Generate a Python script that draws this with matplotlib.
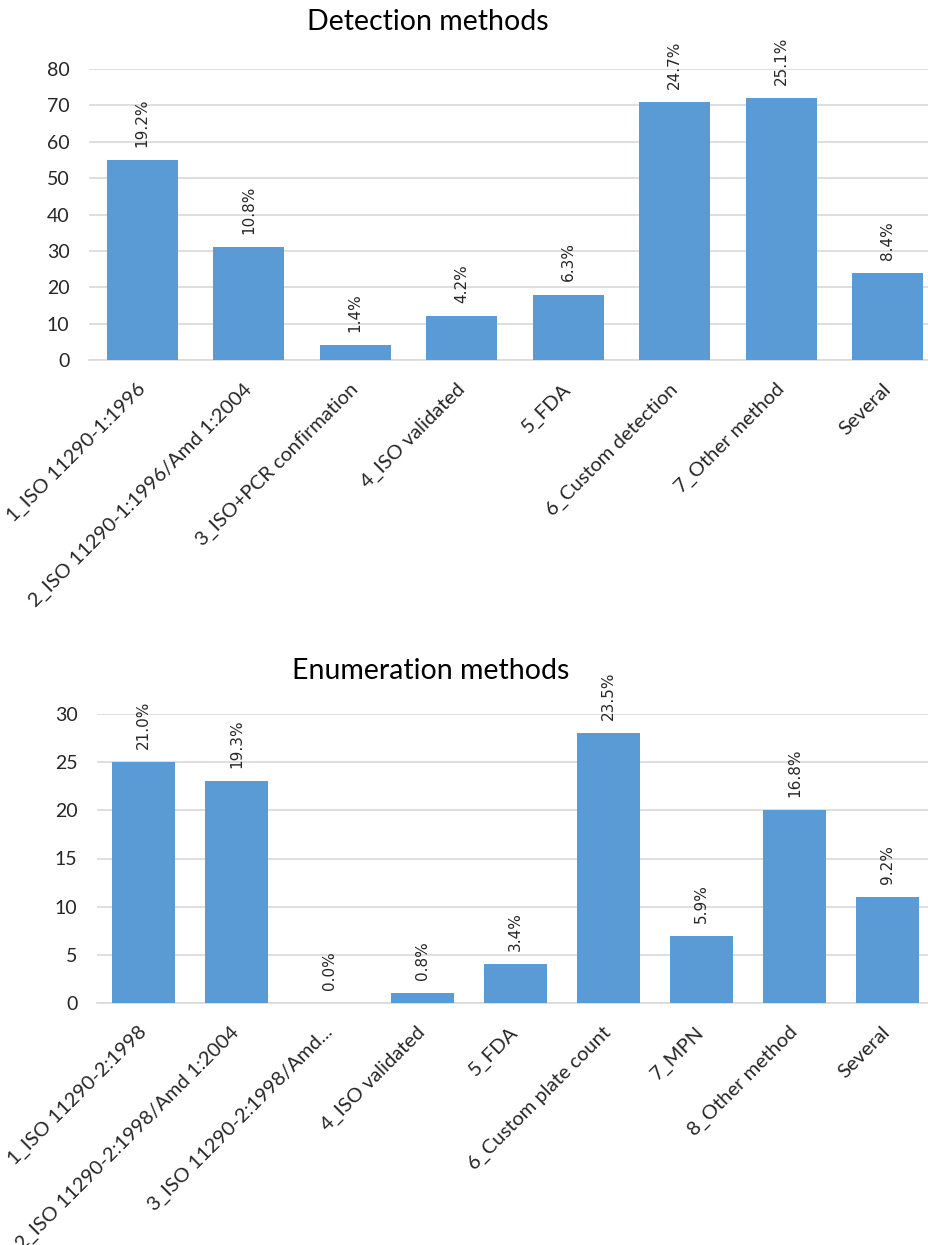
import numpy as np
import matplotlib.pyplot as plt

# Detection methods (counts per method)
det_labels = ['1_ISO 11290-1:1996', '2_ISO 11290-1:1996/Amd 1:2004',
              '3_ISO+PCR confirmation', '4_ISO validated', '5_FDA',
              '6_Custom detection', '7_Other method', 'Several']
det_counts = [55, 31, 4, 12, 18, 71, 72, 24]
det_pct = ['19.2%', '10.8%', '1.4%', '4.2%', '6.3%', '24.7%', '25.1%', '8.4%']

# Enumeration methods (counts per method)
enum_labels = ['1_ISO 11290-2:1998', '2_ISO 11290-2:1998/Amd 1:2004',
               '3_ISO 11290-2:1998/Amd...', '4_ISO validated', '5_FDA',
               '6_Custom plate count', '7_MPN', '8_Other method', 'Several']
enum_counts = [25, 23, 0, 1, 4, 28, 7, 20, 11]
enum_pct = ['21.0%', '19.3%', '0.0%', '0.8%', '3.4%', '23.5%', '5.9%', '16.8%', '9.2%']

BAR = '#5B9BD5'
GRID = '#D9D9D9'
TXT = '#262626'
FONT = ['Lato', 'DejaVu Sans']

W, H = 929, 1245
fig = plt.figure(figsize=(W / 100, H / 100), dpi=100)


def px_axes(left, top, right, bottom):
    return fig.add_axes([left / W, 1 - bottom / H, (right - left) / W, (bottom - top) / H])


def draw(ax, labels, counts, pcts, ymax, step, title, width, title_xy, label_gap):
    x = np.arange(len(labels))
    ax.bar(x, counts, width=width, color=BAR, zorder=3)
    ax.set_xlim(-0.5, len(labels) - 0.5)
    ax.set_ylim(0, ymax)
    ax.set_yticks(np.arange(0, ymax + 1, step))
    ax.yaxis.grid(True, color=GRID, linewidth=1.2, zorder=0)
    ax.set_axisbelow(True)
    for s in ['top', 'right', 'left']:
        ax.spines[s].set_visible(False)
    ax.spines['bottom'].set_color(GRID)
    ax.spines['bottom'].set_linewidth(1.2)
    ax.tick_params(axis='both', length=0, colors=TXT)
    ax.tick_params(axis='y', labelsize=14, pad=14)
    ax.tick_params(axis='x', pad=19)
    for t in ax.get_yticklabels():
        t.set_family(FONT)
    ax.set_xticks(x)
    ax.set_xticklabels(labels, rotation=45, ha='right', va='center',
                       rotation_mode='anchor', fontsize=14.5, family=FONT, color=TXT)
    for xi, c, p in zip(x, counts, pcts):
        ax.text(xi, c + label_gap, p, rotation=90, ha='center', va='bottom',
                fontsize=11, family='DejaVu Sans', color=TXT)
    fig.text(title_xy[0] / W, 1 - title_xy[1] / H, title,
             ha='center', va='center', fontsize=20.5, family=FONT, color='black')


ax1 = px_axes(89, 69, 941, 360)
draw(ax1, det_labels, det_counts, det_pct, 80, 10, 'Detection methods', 0.67,
     (428, 22), 3.6)

ax2 = px_axes(97, 714, 934, 1003)
draw(ax2, enum_labels, enum_counts, enum_pct, 30, 5, 'Enumeration methods', 0.68,
     (431, 671), 1.35)

fig.savefig('out.png', dpi=100)
